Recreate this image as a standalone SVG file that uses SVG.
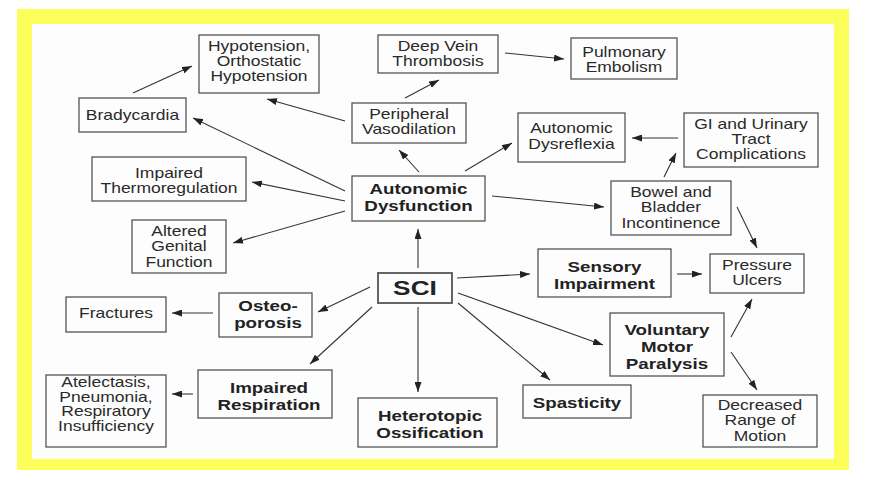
<svg xmlns="http://www.w3.org/2000/svg" width="873" height="488" viewBox="0 0 873 488">
<style>
.bx{fill:none;stroke:#555;stroke-width:1.3}
.t{font-family:"Liberation Sans",Arial,sans-serif;font-size:14px;fill:#2a2a2a;text-anchor:middle}
.b{font-family:"Liberation Sans",Arial,sans-serif;font-size:15px;font-weight:bold;fill:#222;text-anchor:middle}
.c line{stroke:#333;stroke-width:1.1;marker-end:url(#ah)}
</style>
<defs>
<marker id="ah" markerUnits="userSpaceOnUse" markerWidth="10" markerHeight="7" refX="10" refY="3.5" orient="auto">
<path d="M0,0 L10,3.5 L0,7 z" fill="#222"/>
</marker>
</defs>
<rect x="0" y="0" width="873" height="488" fill="#ffffff"/>
<rect x="17" y="9" width="832" height="461" fill="#fcff5a"/>
<rect x="32" y="24" width="802" height="435" fill="#fdfdfd"/>

<g id="connectors" class="c">
<line x1="133" y1="93" x2="192" y2="66"/>
<line x1="345" y1="121" x2="267" y2="99"/>
<line x1="345" y1="191" x2="193" y2="118"/>
<line x1="345" y1="201" x2="252" y2="182"/>
<line x1="345" y1="211" x2="233" y2="243"/>
<line x1="419" y1="172" x2="399" y2="150"/>
<line x1="465" y1="171" x2="512" y2="143"/>
<line x1="405" y1="98" x2="439" y2="80"/>
<line x1="505" y1="53" x2="564" y2="59"/>
<line x1="678" y1="138" x2="632" y2="138"/>
<line x1="664" y1="177" x2="676" y2="153"/>
<line x1="492" y1="196" x2="604" y2="207"/>
<line x1="737" y1="207" x2="757" y2="248"/>
<line x1="677" y1="274" x2="702" y2="274"/>
<line x1="731" y1="337" x2="752" y2="299"/>
<line x1="731" y1="352" x2="757" y2="390"/>
<line x1="418" y1="268" x2="418" y2="229"/>
<line x1="457" y1="278" x2="530" y2="274"/>
<line x1="370" y1="287" x2="318" y2="312"/>
<line x1="372" y1="307" x2="310" y2="364"/>
<line x1="418" y1="307" x2="418" y2="392"/>
<line x1="458" y1="303" x2="550" y2="380"/>
<line x1="458" y1="293" x2="603" y2="345"/>
<line x1="213" y1="313" x2="172" y2="313"/>
<line x1="193" y1="394" x2="172" y2="394"/>
</g>

<g id="hypotension"><rect class="bx" x="199" y="35" width="120" height="58"/>
<text class="t" transform="translate(259 0) scale(1.25 1)"><tspan x="0" y="51">Hypotension,</tspan><tspan x="0" y="66">Orthostatic</tspan><tspan x="0" y="81">Hypotension</tspan></text></g>

<g id="bradycardia"><rect class="bx" x="79" y="98" width="107" height="34"/>
<text class="t" transform="translate(132.5 0) scale(1.25 1)" x="0" y="120">Bradycardia</text></g>

<g id="thermo"><rect class="bx" x="92" y="157" width="154" height="44"/>
<text class="t" transform="translate(169 0) scale(1.25 1)"><tspan x="0" y="178">Impaired</tspan><tspan x="0" y="193">Thermoregulation</tspan></text></g>

<g id="genital"><rect class="bx" x="132" y="220" width="94" height="53"/>
<text class="t" transform="translate(179 0) scale(1.25 1)"><tspan x="0" y="236">Altered</tspan><tspan x="0" y="251.5">Genital</tspan><tspan x="0" y="267">Function</tspan></text></g>

<g id="dvt"><rect class="bx" x="378" y="35" width="120" height="38"/>
<text class="t" transform="translate(438 0) scale(1.25 1)"><tspan x="0" y="51">Deep Vein</tspan><tspan x="0" y="66">Thrombosis</tspan></text></g>

<g id="pe"><rect class="bx" x="571" y="38" width="106" height="41"/>
<text class="t" transform="translate(624 0) scale(1.25 1)"><tspan x="0" y="57">Pulmonary</tspan><tspan x="0" y="72">Embolism</tspan></text></g>

<g id="pv"><rect class="bx" x="352" y="103" width="114" height="40"/>
<text class="t" transform="translate(409 0) scale(1.25 1)"><tspan x="0" y="119.5">Peripheral</tspan><tspan x="0" y="134.5">Vasodilation</tspan></text></g>

<g id="dysreflexia"><rect class="bx" x="518" y="113" width="107" height="49"/>
<text class="t" transform="translate(571.5 0) scale(1.25 1)"><tspan x="0" y="133.5">Autonomic</tspan><tspan x="0" y="149">Dysreflexia</tspan></text></g>

<g id="gi"><rect class="bx" x="684" y="113" width="134" height="54"/>
<text class="t" transform="translate(751 0) scale(1.25 1)"><tspan x="0" y="129.5">GI and Urinary</tspan><tspan x="0" y="144.5">Tract</tspan><tspan x="0" y="159.5">Complications</tspan></text></g>

<g id="bowel"><rect class="bx" x="611" y="181" width="120" height="54"/>
<text class="t" transform="translate(671 0) scale(1.25 1)"><tspan x="0" y="197">Bowel and</tspan><tspan x="0" y="212.5">Bladder</tspan><tspan x="0" y="228">Incontinence</tspan></text></g>

<g id="autonomic"><rect class="bx" x="352" y="176" width="133" height="45"/>
<text class="b" transform="translate(418.5 0) scale(1.25 1)"><tspan x="0" y="194">Autonomic</tspan><tspan x="0" y="211">Dysfunction</tspan></text></g>

<g id="sci"><rect class="bx" x="378" y="273" width="74" height="30" style="stroke-width:1.8"/>
<text class="b" transform="translate(415 0) scale(1.25 1)" x="0" y="295.5" style="font-size:21px">SCI</text></g>

<g id="sensory"><rect class="bx" x="538" y="249" width="133" height="48"/>
<text class="b" transform="translate(604.5 0) scale(1.25 1)"><tspan x="0" y="272">Sensory</tspan><tspan x="0" y="289">Impairment</tspan></text></g>

<g id="ulcers"><rect class="bx" x="710" y="254" width="94" height="39"/>
<text class="t" transform="translate(757 0) scale(1.25 1)"><tspan x="0" y="270">Pressure</tspan><tspan x="0" y="285.5">Ulcers</tspan></text></g>

<g id="vmp"><rect class="bx" x="610" y="313" width="114" height="63"/>
<text class="b" transform="translate(667 0) scale(1.25 1)"><tspan x="0" y="335">Voluntary</tspan><tspan x="0" y="352">Motor</tspan><tspan x="0" y="369">Paralysis</tspan></text></g>

<g id="rom"><rect class="bx" x="703" y="395" width="114" height="52"/>
<text class="t" transform="translate(760 0) scale(1.25 1)"><tspan x="0" y="410.5">Decreased</tspan><tspan x="0" y="425.5">Range of</tspan><tspan x="0" y="441">Motion</tspan></text></g>

<g id="spasticity"><rect class="bx" x="523" y="385" width="108" height="33"/>
<text class="b" transform="translate(577 0) scale(1.25 1)" x="0" y="408">Spasticity</text></g>

<g id="heterotopic"><rect class="bx" x="358" y="398" width="139" height="49"/>
<text class="b" transform="translate(430 0) scale(1.25 1)"><tspan x="0" y="421">Heterotopic</tspan><tspan x="0" y="438">Ossification</tspan></text></g>

<g id="osteo"><rect class="bx" x="219" y="293" width="93" height="44"/>
<text class="b" transform="translate(268 0) scale(1.25 1)"><tspan x="0" y="311">Osteo-</tspan><tspan x="0" y="328">porosis</tspan></text></g>

<g id="fractures"><rect class="bx" x="66" y="297" width="100" height="35"/>
<text class="t" transform="translate(116 0) scale(1.25 1)" x="0" y="318.5">Fractures</text></g>

<g id="respiration"><rect class="bx" x="198" y="370" width="134" height="48"/>
<text class="b" transform="translate(269 0) scale(1.25 1)"><tspan x="0" y="393">Impaired</tspan><tspan x="0" y="410">Respiration</tspan></text></g>

<g id="atelectasis"><rect class="bx" x="46" y="375" width="120" height="72"/>
<text class="t" transform="translate(106 0) scale(1.25 1)"><tspan x="0" y="387.5">Atelectasis,</tspan><tspan x="0" y="402">Pneumonia,</tspan><tspan x="0" y="416.5">Respiratory</tspan><tspan x="0" y="431">Insufficiency</tspan></text></g>
</svg>
